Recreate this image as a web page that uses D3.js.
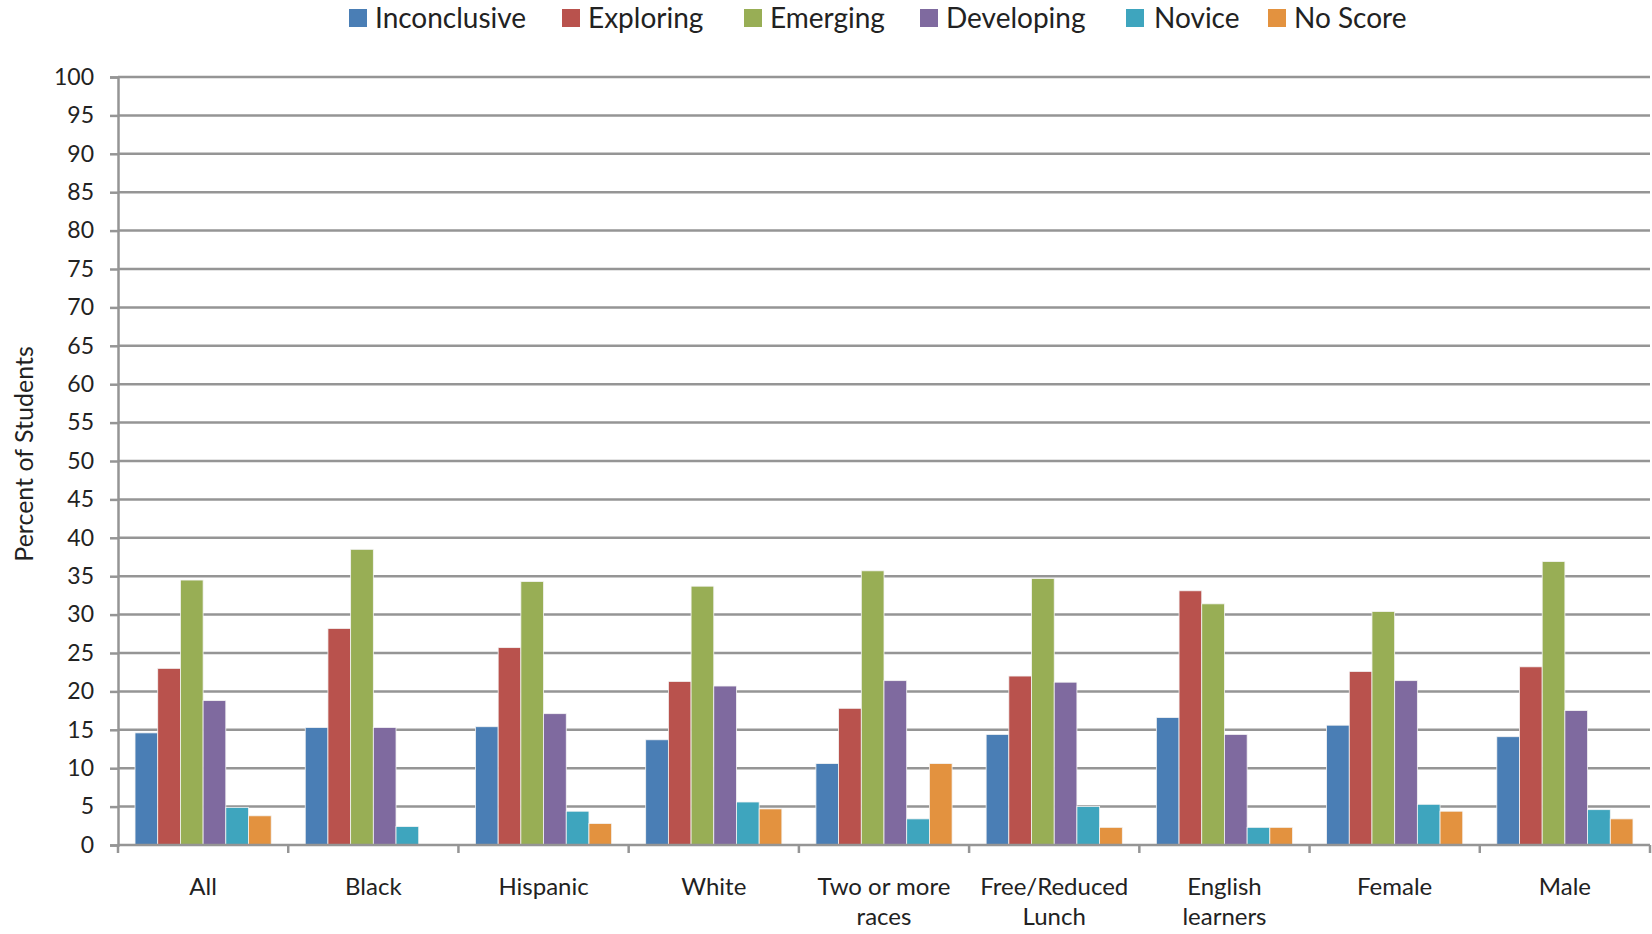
<!DOCTYPE html>
<html>
<head>
<meta charset="utf-8">
<script src="https://cdn.jsdelivr.net/npm/d3@7"></script>
<style>
    body { margin: 0; background: #fff; }
    text { font-family: Lato, "Noto Sans", sans-serif; fill: #222; }
</style>
</head>
<body>
<div id="chart"></div>
<script>
// chart data
const categories = ["All", "Black", "Hispanic", "White", "Two or more races", "Free/Reduced Lunch", "English learners", "Female", "Male"]
const categoryLines = [["All"], ["Black"], ["Hispanic"], ["White"], ["Two or more", "races"], ["Free/Reduced", "Lunch"], ["English", "learners"], ["Female"], ["Male"]]
const seriesNames = ["Inconclusive", "Exploring", "Emerging", "Developing", "Novice", "No Score"]
const inconclusive = [14.6, 15.3, 15.4, 13.7, 10.6, 14.4, 16.6, 15.6, 14.1]
const exploring    = [23.0, 28.2, 25.7, 21.3, 17.8, 22.0, 33.1, 22.6, 23.2]
const emerging     = [34.5, 38.5, 34.3, 33.7, 35.7, 34.7, 31.4, 30.4, 36.9]
const developing   = [18.8, 15.3, 17.1, 20.7, 21.4, 21.2, 14.4, 21.4, 17.5]
const novice       = [4.9, 2.4, 4.4, 5.6, 3.4, 5.0, 2.3, 5.3, 4.6]
const noScore      = [3.8, 0, 2.8, 4.7, 10.6, 2.3, 2.3, 4.4, 3.4]
const yTicks = d3.range(0, 101, 5)
const colors = ["#4a7eb5", "#b9524d", "#98ae55", "#7f6a9f", "#3ea5be", "#e3923f"]

buildChart()

function buildChart() {
    const W = 1652, H = 934
    const m = { left: 118, right: 1650, top: 77, bottom: 845 }
    const seriesValues = [inconclusive, exploring, emerging, developing, novice, noScore]

    let svg = d3.select("#chart")
                .append("svg")
                    .attr("width", W)
                    .attr("height", H)

    let x = d3.scaleBand()
                .domain(categories)
                .range([m.left, m.right])
                .padding(0)
    let xs = d3.scaleBand()
                .domain(seriesNames)
                .range([0, x.bandwidth()])
                .paddingInner(0)
                .paddingOuter(0.75)
    let y = d3.scaleLinear()
                .domain([0, 100])
                .range([m.bottom, m.top])

    // gridlines
    svg.append("g")
        .selectAll("line")
        .data(yTicks.filter(d => d > 0))
        .enter().append("line")
            .attr("x1", m.left)
            .attr("x2", m.right)
            .attr("y1", d => y(d))
            .attr("y2", d => y(d))
            .attr("stroke", "#959595")
            .attr("stroke-width", 2.5)

    // y axis
    let yAxis = svg.append("g")
        .attr("transform", `translate(${m.left},0)`)
        .call(d3.axisLeft(y).tickValues(yTicks).tickSize(8).tickPadding(16))
    yAxis.select(".domain").attr("stroke", "#959595").attr("stroke-width", 2.5)
    yAxis.selectAll(".tick line").attr("stroke", "#959595").attr("stroke-width", 2.5)
    yAxis.selectAll(".tick text")
        .style("font-size", "23px")
        .attr("fill", "#222")

    // bars
    seriesNames.forEach(function(name, i) {
        svg.append("g")
            .selectAll("rect")
            .data(categories.map((c, j) => ({ cat: c, value: seriesValues[i][j] })))
            .enter().append("rect")
                .attr("x", d => x(d.cat) + xs(name))
                .attr("y", d => y(d.value))
                .attr("width", xs.bandwidth())
                .attr("height", d => y(0) - y(d.value))
                .attr("fill", colors[i])
                .attr("stroke", d => d.value > 0 ? "#f4f4f4" : "none")
                .attr("stroke-width", 0.8)
    })

    // x axis
    let xAxisLine = svg.append("g")
    xAxisLine.append("line")
        .attr("x1", m.left).attr("x2", m.right)
        .attr("y1", y(0)).attr("y2", y(0))
        .attr("stroke", "#959595").attr("stroke-width", 2.5)
    xAxisLine.selectAll(".xtick")
        .data(categories.map(c => x(c)).concat([m.right]))
        .enter().append("line")
            .attr("x1", d => d).attr("x2", d => d)
            .attr("y1", y(0)).attr("y2", y(0) + 8)
            .attr("stroke", "#959595").attr("stroke-width", 2.5)

    let labels = svg.append("g")
        .selectAll("text")
        .data(categories)
        .enter().append("text")
            .attr("text-anchor", "middle")
            .attr("x", d => x(d) + x.bandwidth() / 2)
            .attr("y", 895)
            .style("font-size", "24px")
    labels.selectAll("tspan")
        .data((d, i) => categoryLines[i])
        .enter().append("tspan")
            .attr("x", function() { return d3.select(this.parentNode).attr("x") })
            .attr("dy", (d, i) => i === 0 ? 0 : 30)
            .text(d => d)

    // y title
    svg.append("text")
        .attr("transform", `translate(33,454) rotate(-90)`)
        .attr("text-anchor", "middle")
        .style("font-size", "25px")
        .text("Percent of Students")

    // legend
    let legendX = [349, 562, 744, 920, 1126, 1268]
    let legend = svg.append("g")
        .selectAll("g")
        .data(seriesNames)
        .enter().append("g")
            .attr("transform", (d, i) => `translate(${legendX[i]},0)`)
    legend.append("rect")
        .attr("x", 0).attr("y", 9)
        .attr("width", 18).attr("height", 18)
        .attr("fill", (d, i) => colors[i])
    legend.append("text")
        .attr("x", (d, i) => i === 4 ? 28 : 26)
        .attr("y", 28)
        .style("font-size", "28px")
        .text(d => d)
}
</script>
</body>
</html>
